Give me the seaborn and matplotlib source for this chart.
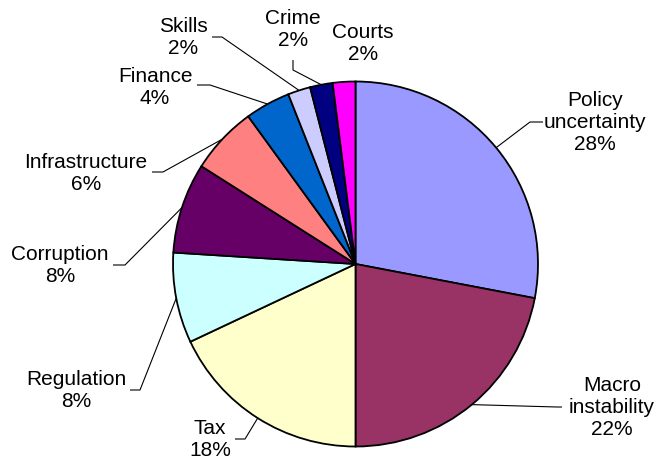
import matplotlib
matplotlib.use("Agg")
import matplotlib.pyplot as plt
import numpy as np
import seaborn as sns

# Share of firms naming each obstacle as the most serious one
categories = ["Policy\nuncertainty", "Macro\ninstability", "Tax", "Regulation",
              "Corruption", "Infrastructure", "Finance", "Skills", "Crime", "Courts"]
shares = [28, 22, 18, 8, 8, 6, 4, 2, 2, 2]
colors = ["#9999FF", "#993366", "#FFFFCC", "#CCFFFF", "#660066",
          "#FF8080", "#0066CC", "#CCCCFF", "#000080", "#FF00FF"]

sns.set_theme(style="white")
plt.rcParams["font.family"] = ["Liberation Sans", "DejaVu Sans"]

W, H = 656, 464
fig = plt.figure(figsize=(W / 100, H / 100), dpi=100)
ax = fig.add_axes([0, 0, 1, 1])

cx, cy, r = 355.5, H - 265, 182.5
wedges, _ = ax.pie(shares, colors=colors, startangle=90, counterclock=False,
                   center=(cx, cy), radius=r, frame=True,
                   wedgeprops=dict(edgecolor="black", linewidth=1.3))
ax.set_xlim(0, W)
ax.set_ylim(0, H)
ax.set_aspect("equal")
ax.set_axis_off()

# label centre, end of leader line next to the text, and the bend point
label_pos = [(595, 123), (612, 408), (210, 440), (76, 391), (60, 266),
             (86, 173), (155, 87), (183, 38), (293, 30), (363, 44)]
leader = [((543, 123), (530, 123)), ((562, 408), (557, 408)),
          ((235, 440), (245, 440)), ((130, 391), (140, 391)),
          ((113, 266), (125, 266)), ((152, 173), (163, 173)),
          ((197, 86), (210, 86)), ((212, 38), (222, 38)),
          ((293, 61), (293, 71)), None]

for w, cat, val, pos, ld in zip(wedges, categories, shares, label_pos, leader):
    ax.text(pos[0], H - pos[1], f"{cat}\n{val}%", ha="center", va="center",
            multialignment="center", fontsize=15, color="black",
            linespacing=1.2)
    if ld is None:
        continue
    mid = np.deg2rad((w.theta1 + w.theta2) / 2)
    px, py = cx + r * np.cos(mid), cy + r * np.sin(mid)
    (ex, ey), (bx, by) = ld
    ax.plot([ex, bx, px], [H - ey, H - by, py], color="black", lw=0.8,
            solid_capstyle="butt", zorder=0.5)

fig.savefig("out.png", dpi=100)
